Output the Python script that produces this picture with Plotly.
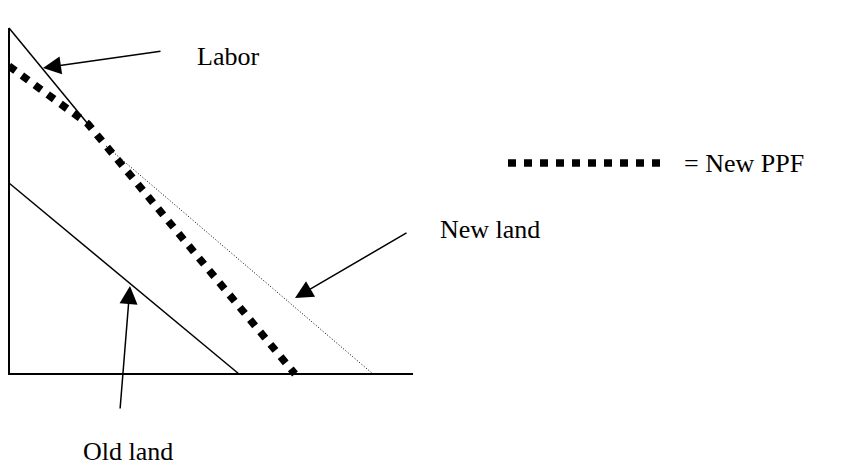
import plotly.graph_objects as go

# Diagram data (x = quantity of good X, y = quantity of good Y), origin at axis corner
axis_x = [0, 0, 404]
axis_y = [346, 0, 0]

labor_x = [0, 79]
labor_y = [346, 250]

ppf_x = [0, 79, 286]
ppf_y = [308, 250, 0]

new_land_x = [97, 364]
new_land_y = [228, 0]

old_land_x = [0, 230]
old_land_y = [191, 0]

legend_x = [499, 651]
legend_y = [211, 211]

# arrows: (tip_x, tip_y, tail_x, tail_y)
labor_arrow = (34, 306, 153, 323)
new_land_arrow = (286, 76, 399, 142)
old_land_arrow = (121, 88, 111, -36)

labels = ["Labor", "New land", "Old land", "= New PPF"]
label_x = [186, 429, 72, 673]
label_y = [317.5, 144.5, -77, 211]

FONT = "Liberation Serif, Times New Roman, serif"

fig = go.Figure()
fig.add_trace(go.Scatter(x=axis_x, y=axis_y, mode="lines",
                         line=dict(color="black", width=2), hoverinfo="skip"))
fig.add_trace(go.Scatter(x=old_land_x, y=old_land_y, mode="lines",
                         line=dict(color="black", width=1.5), hoverinfo="skip"))
fig.add_trace(go.Scatter(x=labor_x, y=labor_y, mode="lines",
                         line=dict(color="black", width=1.5), hoverinfo="skip"))
fig.add_trace(go.Scatter(x=new_land_x, y=new_land_y, mode="lines",
                         line=dict(color="black", width=1, dash="1px,2px"), hoverinfo="skip"))
fig.add_trace(go.Scatter(x=ppf_x, y=ppf_y, mode="lines",
                         line=dict(color="black", width=7.5, dash="8px,8px"), hoverinfo="skip"))
fig.add_trace(go.Scatter(x=legend_x, y=legend_y, mode="lines",
                         line=dict(color="black", width=7.5, dash="8px,8px"), hoverinfo="skip"))

for tipx, tipy, tailx, taily in [labor_arrow, new_land_arrow, old_land_arrow]:
    fig.add_annotation(x=tipx, y=tipy, ax=tailx, ay=taily, xref="x", yref="y",
                       axref="x", ayref="y", showarrow=True, arrowhead=2,
                       arrowsize=2.4, arrowwidth=1.5, arrowcolor="black", text="")

for t, x, y in zip(labels, label_x, label_y):
    fig.add_annotation(x=x, y=y, text=t, showarrow=False, xanchor="left",
                       yanchor="middle", font=dict(family=FONT, size=26, color="black"))

# page body has an 8px margin, so the figure is shrunk and the ranges shifted
fig.update_layout(
    width=843, height=457, margin=dict(l=0, r=0, t=0, b=0),
    paper_bgcolor="white", plot_bgcolor="white", showlegend=False,
    xaxis=dict(range=[-1, 842], visible=False, fixedrange=True),
    yaxis=dict(range=[-91, 366], visible=False, fixedrange=True),
)

fig.write_html("out.html")
